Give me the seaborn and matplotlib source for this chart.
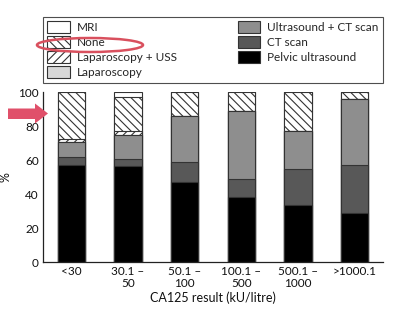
import matplotlib
matplotlib.use("Agg")
import matplotlib.pyplot as plt
import matplotlib.patches as mpatches
import numpy as np
import pandas as pd
import seaborn as sns

# CA125 result bands
categories = ["<30", "30.1 –\n50", "50.1 –\n100", "100.1 –\n500", "500.1 –\n1000", ">1000.1"]

# Percentage of patients per imaging / investigation route (bottom to top of stack)
pelvic_us = [57.0, 56.5, 47.5, 38.5, 33.5, 29.0]
ct_scan = [5.0, 4.0, 11.5, 10.5, 21.5, 28.0]
us_ct = [9.0, 14.5, 27.0, 40.0, 22.0, 39.0]
laparoscopy = [0.0, 0.0, 0.0, 0.0, 0.0, 0.0]
lap_uss = [1.5, 2.0, 0.0, 0.0, 0.0, 0.0]
none = [27.5, 20.5, 14.0, 11.0, 23.0, 4.0]
mri = [0.0, 2.5, 0.0, 0.0, 0.0, 0.0]

series = [
    ("Pelvic ultrasound", pelvic_us, "#000000", None),
    ("CT scan", ct_scan, "#585858", None),
    ("Ultrasound + CT scan", us_ct, "#8e8e8e", None),
    ("Laparoscopy", laparoscopy, "#d8d8d8", None),
    ("Laparoscopy + USS", lap_uss, "#ffffff", "////"),
    ("None", none, "#ffffff", "\\\\\\\\"),
    ("MRI", mri, "#ffffff", None),
]

sns.set_style("white")
plt.rcParams["font.family"] = ["Lato", "DejaVu Sans"]
plt.rcParams["hatch.linewidth"] = 0.8
plt.rcParams["hatch.color"] = "#444444"

fig = plt.figure(figsize=(4.02, 3.22), dpi=100)
ax = fig.add_axes([43 / 402, 1 - 262.3 / 322, 340 / 402, (262.3 - 92.3) / 322])

edge = "#333333"
cum = np.cumsum([s[1] for s in series], axis=0)
handles = {}
# draw the cumulative stacks from the top layer down so lower layers overlay
for i in range(len(series) - 1, -1, -1):
    name, vals, color, hatch = series[i]
    df = pd.DataFrame({"band": categories, "value": cum[i]})
    sns.barplot(data=df, x="band", y="value", color=color, width=0.48,
                edgecolor=edge, linewidth=0.8, hatch=hatch, ax=ax,
                saturation=1, errorbar=None)
    handles[name] = mpatches.Patch(facecolor=color, edgecolor=edge,
                                   linewidth=0.8, hatch=hatch, label=name)

ax.set_xlim(-0.5, 5.5)
ax.set_ylim(0, 100)
ax.set_yticks([0, 20, 40, 60, 80, 100])
ax.set_xticks([-0.5, 0.5, 1.5, 2.5, 3.5, 4.5, 5.5], minor=False)
ax.set_xticklabels([])
ax.set_xticks(range(6), minor=True)
ax.set_xticklabels(categories, minor=True, fontsize=8.5, linespacing=1.05)
ax.tick_params(axis="x", which="major", direction="in", length=8, width=0.8, colors="#222222")
ax.tick_params(axis="x", which="minor", length=0, pad=3, labelcolor="#111111")
ax.tick_params(axis="y", direction="in", length=6, width=0.8, labelsize=8.5,
               pad=3, colors="#222222", labelcolor="#111111")
for s in ["top", "right"]:
    ax.spines[s].set_visible(False)
for s in ["left", "bottom"]:
    ax.spines[s].set_color("#222222")
    ax.spines[s].set_linewidth(0.9)
ax.set_xlabel("CA125 result (kU/litre)", fontsize=9, labelpad=2, color="#111111")
ax.set_ylabel("%", fontsize=9, color="#111111")
ax.yaxis.set_label_coords(-(43 - 11) / 340, 0.5)

order = ["MRI", "None", "Laparoscopy + USS", "Laparoscopy",
         "Ultrasound + CT scan", "CT scan", "Pelvic ultrasound"]
leg = fig.legend([handles[n] for n in order], order, ncol=2,
                 loc="upper left", bbox_to_anchor=(43 / 402, 1 - 86 / 322, 340 / 402, 69 / 322),
                 mode="expand", frameon=True, fancybox=False, fontsize=8.5,
                 handlelength=1.9, handleheight=1.2, handletextpad=0.6,
                 labelspacing=0.25, borderpad=0.35, columnspacing=2.0,
                 borderaxespad=0)
leg.get_frame().set_edgecolor("#222222")
leg.get_frame().set_linewidth(0.8)

# red highlight marks drawn in pixel space, above the legend
over = fig.add_axes([0, 0, 1, 1], facecolor="none")
over.set_zorder(10)
over.set_xlim(0, 402)
over.set_ylim(322, 0)
over.axis("off")
over.add_patch(mpatches.Ellipse((90, 45), 106, 14, fill=False,
                                edgecolor="#d9505e", linewidth=1.8))
over.add_patch(mpatches.Polygon([(8, 108.5), (35, 108.5), (35, 103.5), (48, 113.5),
                                 (35, 123.5), (35, 119), (8, 119)], closed=True,
                                facecolor="#e0506a", edgecolor="none"))

fig.savefig("out.png", dpi=100)
